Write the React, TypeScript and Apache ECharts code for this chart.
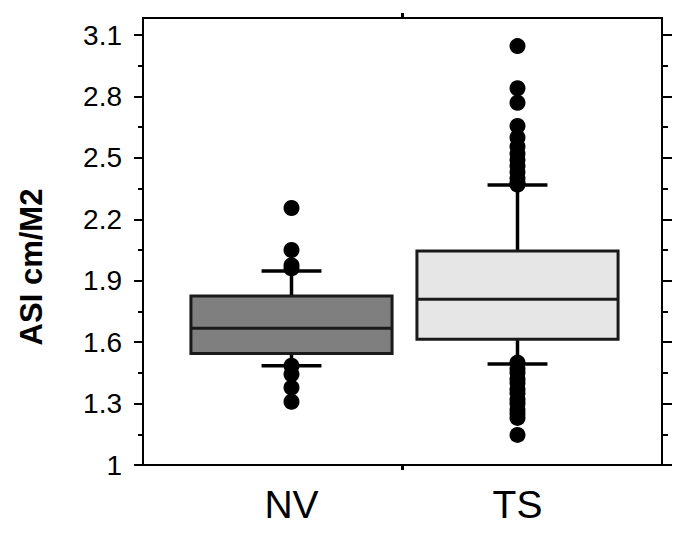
import React, { useEffect, useRef } from 'react';
import * as echarts from 'echarts';

const categories = ['NV', 'TS'];
// [lower whisker, Q1, median, Q3, upper whisker]
const nvBox = [1.485, 1.545, 1.668, 1.825, 1.947];
const tsBox = [1.493, 1.614, 1.809, 2.045, 2.367];
const nvOutliers = [2.255, 2.05, 1.975, 1.96, 1.485, 1.443, 1.378, 1.309];
const tsOutliers = [
  3.046, 2.84, 2.769, 2.656, 2.6, 2.555, 2.52, 2.49, 2.46, 2.43, 2.4, 2.38, 2.37,
  1.5, 1.47, 1.45, 1.42, 1.4, 1.37, 1.35, 1.32, 1.3, 1.27, 1.25, 1.23, 1.147,
];
const yMin = 1;
const yMax = 3.1;
const yStep = 0.3;
const boxFills = ['#7f7f7f', '#e6e6e6'];

const FONT = '"Liberation Sans", Arial, Helvetica, sans-serif';

export default function App() {
  const ref = useRef<HTMLDivElement>(null);

  useEffect(() => {
    if (!ref.current) return;
    const chart = echarts.init(ref.current, undefined, { renderer: 'svg' });

    const boxData = [
      [0, ...nvBox],
      [1, ...tsBox],
    ];
    const outlierData = [
      ...nvOutliers.map((v) => [0, v]),
      ...tsOutliers.map((v) => [1, v]),
    ];

    const frameTick = {
      show: true,
      length: 5,
      customValues: [1],
      lineStyle: { color: '#000', width: 3 },
    };

    const option: any = {
      animation: false,
      textStyle: { fontFamily: FONT },
      grid: [
        { left: 143, top: 18, width: 519, height: 447, show: true, borderColor: '#000', borderWidth: 2, backgroundColor: 'transparent' },
        { left: 143, top: 35, width: 519, height: 430 },
        { left: 178.5, top: 35, width: 452, height: 430 },
      ],
      xAxis: [
        {
          gridIndex: 0, type: 'value', min: 0, max: 2, interval: 1, position: 'bottom',
          axisLine: { show: false }, axisTick: frameTick, axisLabel: { show: false }, splitLine: { show: false },
        },
        {
          gridIndex: 0, type: 'value', min: 0, max: 2, interval: 1, position: 'top',
          axisLine: { show: false }, axisTick: frameTick, axisLabel: { show: false }, splitLine: { show: false },
        },
        { gridIndex: 1, type: 'value', show: false },
        {
          gridIndex: 2, type: 'category', data: categories,
          axisLine: { show: false }, axisTick: { show: false }, splitLine: { show: false },
          axisLabel: { fontSize: 39, color: '#000', margin: 20, fontFamily: FONT },
        },
      ],
      yAxis: [
        { gridIndex: 0, type: 'value', show: false, min: 0, max: 1 },
        {
          gridIndex: 1, type: 'value', position: 'left', min: yMin, max: yMax, interval: yStep,
          axisLine: { show: false },
          axisTick: { show: true, length: 9, lineStyle: { color: '#000', width: 2 } },
          minorTick: { show: true, splitNumber: 2, length: 5, lineStyle: { color: '#000', width: 2 } },
          splitLine: { show: false },
          axisLabel: {
            fontSize: 28, color: '#000', margin: 21, fontFamily: FONT,
            formatter: (v: number) => String(Number(v.toFixed(1))),
          },
        },
        {
          gridIndex: 1, type: 'value', position: 'right', min: yMin, max: yMax, interval: yStep,
          axisLine: { show: false },
          axisTick: { show: true, length: 10, lineStyle: { color: '#000', width: 2 } },
          minorTick: { show: true, splitNumber: 2, length: 6, lineStyle: { color: '#000', width: 2 } },
          splitLine: { show: false },
          axisLabel: { show: false },
        },
        { gridIndex: 2, type: 'value', show: false, min: yMin, max: yMax },
      ],
      graphic: [
        {
          type: 'text', x: 31, y: 267, rotation: Math.PI / 2,
          style: {
            text: 'ASI cm/M2', fontSize: 31, fontWeight: 'bold', fontFamily: FONT, fill: '#000',
            align: 'center', verticalAlign: 'middle',
          },
        },
      ],
      series: [
        {
          type: 'custom',
          xAxisIndex: 3,
          yAxisIndex: 3,
          data: boxData,
          encode: { x: 0, y: [1, 2, 3, 4, 5] },
          clip: false,
          renderItem: (params: any, api: any) => {
            const idx = api.value(0);
            const ys = [1, 2, 3, 4, 5].map((i) => api.coord([idx, api.value(i)])[1]);
            const cx = api.coord([idx, api.value(1)])[0];
            const band = api.size([1, 0])[0];
            const bw = band * 0.89;
            const cw = band * 0.265;
            const [lo, q1, md, q3, hi] = ys;
            const ls = { stroke: '#000', lineWidth: 3.5 };
            return {
              type: 'group',
              children: [
                { type: 'line', shape: { x1: cx, y1: q3, x2: cx, y2: hi }, style: ls },
                { type: 'line', shape: { x1: cx, y1: q1, x2: cx, y2: lo }, style: ls },
                { type: 'line', shape: { x1: cx - cw / 2, y1: hi, x2: cx + cw / 2, y2: hi }, style: ls },
                { type: 'line', shape: { x1: cx - cw / 2, y1: lo, x2: cx + cw / 2, y2: lo }, style: ls },
                {
                  type: 'rect',
                  shape: { x: cx - bw / 2, y: q3, width: bw, height: q1 - q3 },
                  style: { fill: boxFills[params.dataIndex], stroke: '#1a1a1a', lineWidth: 3 },
                },
                {
                  type: 'line',
                  shape: { x1: cx - bw / 2, y1: md, x2: cx + bw / 2, y2: md },
                  style: { stroke: '#1a1a1a', lineWidth: 3 },
                },
              ],
            };
          },
        },
        {
          type: 'scatter',
          xAxisIndex: 3,
          yAxisIndex: 3,
          data: outlierData,
          symbol: 'circle',
          symbolSize: 16,
          itemStyle: { color: '#000', opacity: 1 },
          clip: false,
          z: 5,
        },
      ],
    };

    chart.setOption(option);
    return () => chart.dispose();
  }, []);

  return (
    <div
      ref={ref}
      style={{ position: 'fixed', left: 0, top: 0, width: 690, height: 534, background: '#fff' }}
    />
  );
}
